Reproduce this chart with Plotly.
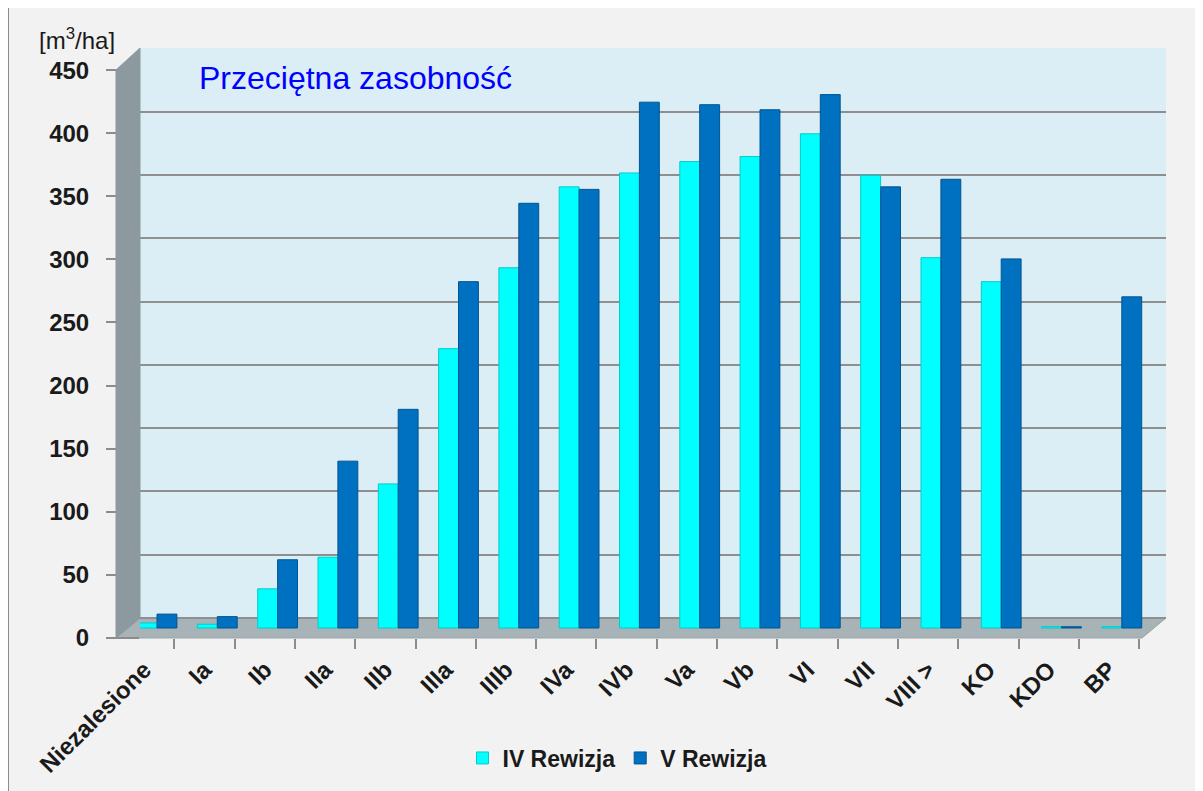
import plotly.graph_objects as go

# ---- data ----
categories = ["Niezalesione", "Ia", "Ib", "IIa", "IIb", "IIIa", "IIIb", "IVa", "IVb",
              "Va", "Vb", "VI", "VII", "VIII >", "KO", "KDO", "BP"]
iv_rewizja = [4, 3, 31, 56, 114, 221, 285, 349, 360, 369, 373, 391, 358, 293, 274, 1, 1]
v_rewizja = [11, 9, 54, 132, 173, 274, 336, 347, 416, 414, 410, 422, 349, 355, 292, 1, 262]
y_ticks = [0, 50, 100, 150, 200, 250, 300, 350, 400, 450]

# the page body adds an 8px margin; work in reference pixels and shift
OFF = 8
W, H = 1203 - OFF, 791 - OFF
PL, PR, PT, PB = 140, 1166, 48, 638   # plot area in reference pixels (back wall)


def px(xp):
    return (xp - PL) / (PR - PL)


def py(yp):
    return (PB - yp) / (PB - PT)


FONT = "Liberation Sans, Arial, sans-serif"
CAT_STEP = 60.3
n = len(categories)
span = (PR - PL) / CAT_STEP
idx = list(range(n))

fig = go.Figure()
fig.add_trace(go.Bar(x=idx, y=iv_rewizja, name="IV Rewizja",
                     marker=dict(color="#00ffff", line=dict(color="#00cccc", width=1))))
fig.add_trace(go.Bar(x=idx, y=v_rewizja, name="V Rewizja",
                     marker=dict(color="#0070c0", line=dict(color="#005592", width=1))))
# empty helper traces so the overlay axes get drawn
fig.add_trace(go.Scatter(x=[], y=[], xaxis="x2", yaxis="y", showlegend=False, hoverinfo="skip"))
fig.add_trace(go.Scatter(x=[], y=[], xaxis="x", yaxis="y2", showlegend=False, hoverinfo="skip"))
fig.add_trace(go.Scatter(x=[], y=[], xaxis="x", yaxis="y3", showlegend=False, hoverinfo="skip"))

# bar axis (mid depth)
r0 = -(157 - PL) / CAT_STEP
# front axis for category labels
f0 = -(144.2 - PL) / CAT_STEP

shapes = [
    # outer frame
    dict(type="rect", xref="paper", yref="paper", x0=px(OFF), x1=px(1203 + 30), y0=py(7), y1=py(791 + 30),
         fillcolor="#f2f2f2", line=dict(color="#8c8c8c", width=2), layer="below"),
    # back wall
    dict(type="rect", xref="paper", yref="paper", x0=px(PL), x1=px(PR), y0=py(618), y1=py(PT),
         fillcolor="#dbeef6", line=dict(width=0), layer="below"),
    # floor
    dict(type="path", xref="paper", yref="paper", layer="below",
         path=f"M{px(140)},{py(618)} L{px(1166)},{py(618)} L{px(1142)},{py(638)} L{px(116)},{py(638)} Z",
         fillcolor="#a7b3b7", line=dict(color="#9aa5a9", width=1)),
    # side wall
    dict(type="path", xref="paper", yref="paper", layer="above",
         path=f"M{px(116)},{py(70)} L{px(140)},{py(48)} L{px(140)},{py(618)} L{px(116)},{py(638)} Z",
         fillcolor="#8c999e", line=dict(color="#8c999e", width=1)),
]

fig.update_layout(
    width=W, height=H,
    margin=dict(l=PL - OFF, r=1203 - PR, t=PT - OFF, b=791 - PB, pad=0),
    paper_bgcolor="white",
    plot_bgcolor="rgba(0,0,0,0)",
    barmode="group", bargap=0.34, bargroupgap=0,
    font=dict(family=FONT, color="#1a1a1a"),
    xaxis=dict(range=[r0, r0 + span], showticklabels=False, ticks="", showgrid=False,
               zeroline=False, showline=False),
    xaxis2=dict(overlaying="x", anchor="y", side="bottom", range=[f0, f0 + span],
                tickmode="array", tickvals=idx, ticktext=categories, ticks="",
                tickangle=-45, ticklabelstandoff=12,
                tickfont=dict(family=FONT, size=24, color="#1a1a1a", weight="bold"),
                showgrid=False, zeroline=False, showline=False,
                minor=dict(ticks="outside", tick0=-0.5, dtick=1, ticklen=10, tickwidth=2,
                           tickcolor="#8c8c8c", showgrid=False)),
    yaxis=dict(range=[-10 / 1.264, (628 - PT) / 1.264], showticklabels=False, ticks="",
               showgrid=False, zeroline=False, showline=False),
    yaxis2=dict(overlaying="y", anchor="x", side="left", range=[-20 / 1.2656, (618 - PT) / 1.2656],
                tickmode="array", tickvals=y_ticks, showticklabels=False, ticks="",
                showgrid=True, gridcolor="#8f8f8f", gridwidth=2, zeroline=False, showline=False),
    yaxis3=dict(overlaying="y", anchor="x", side="left", range=[-0.01, (638 - PT) / 1.262],
                tickmode="array", tickvals=y_ticks, ticktext=[str(v) for v in y_ticks],
                ticks="outside", ticklen=33, tickwidth=2, tickcolor="#8c8c8c",
                ticklabelstandoff=12,
                tickfont=dict(family=FONT, size=24, color="#1a1a1a", weight="bold"),
                showgrid=False, zeroline=False, showline=False),
    legend=dict(orientation="h", x=px(617), xanchor="center", y=py(758), yanchor="middle",
                font=dict(family=FONT, size=23, color="#1a1a1a", weight="bold"),
                bgcolor="rgba(0,0,0,0)", itemclick=False, traceorder="normal"),
    shapes=shapes,
    annotations=[
        dict(text="Przeciętna zasobność", xref="paper", yref="paper", x=px(197), y=py(78),
             xanchor="left", yanchor="middle", showarrow=False,
             font=dict(family=FONT, size=32, color="#0000ff")),
        dict(text="[m<sup>3</sup>/ha]", xref="paper", yref="paper", x=px(77), y=py(39),
             xanchor="center", yanchor="middle", showarrow=False,
             font=dict(family=FONT, size=24, color="#1a1a1a")),
    ],
    showlegend=True,
)

fig.write_html("out.html")
